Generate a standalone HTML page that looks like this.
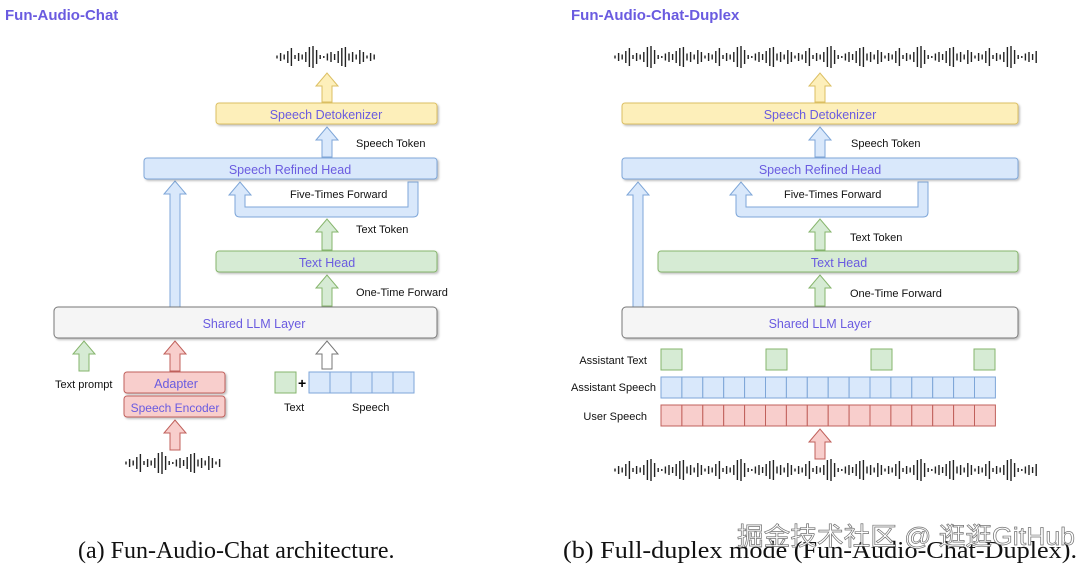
<!DOCTYPE html>
<html><head><meta charset="utf-8"><style>
html,body{margin:0;padding:0;background:#fff;}
svg{display:block}
.t{font-family:"Liberation Sans",sans-serif;font-size:11px;fill:#111}
.b{font-family:"Liberation Sans",sans-serif;font-size:12.5px;fill:#6a5be0;text-anchor:middle}
.h{font-family:"Liberation Sans",sans-serif;font-size:15px;font-weight:bold;fill:#6a5be0}
.c{font-family:"Liberation Serif",serif;font-size:24px;fill:#111}
</style></head><body>
<svg id="s" width="1080" height="571" viewBox="0 0 1080 571" xmlns="http://www.w3.org/2000/svg">
<defs><filter id="sh" x="-5%" y="-20%" width="110%" height="160%"><feDropShadow dx="1.5" dy="1.5" stdDeviation="1" flood-color="#000" flood-opacity="0.25"/></filter></defs>
<g id="g"></g>
<text class="h" x="5" y="20">Fun-Audio-Chat</text>
<text class="h" x="571" y="20">Fun-Audio-Chat-Duplex</text>

<rect x="216" y="103" width="221" height="21" rx="3" fill="#fdefba" stroke="#dcbf63" filter="url(#sh)"/>
<text class="b" x="326" y="119">Speech Detokenizer</text>
<rect x="144" y="158" width="293" height="21" rx="3" fill="#d9e8fb" stroke="#7ea6d8" filter="url(#sh)"/>
<text class="b" x="290" y="174">Speech Refined Head</text>
<rect x="216" y="251" width="221" height="21" rx="3" fill="#d6ebd4" stroke="#86b56c" filter="url(#sh)"/>
<text class="b" x="327" y="267">Text Head</text>
<rect x="54" y="307" width="383" height="31" rx="4" fill="#f5f5f5" stroke="#777" filter="url(#sh)"/>
<text class="b" x="254" y="328">Shared LLM Layer</text>
<rect x="124" y="372" width="101" height="21" rx="3" fill="#f8cecc" stroke="#c0605b" filter="url(#sh)"/>
<text class="b" x="176" y="388">Adapter</text>
<rect x="124" y="396" width="101" height="21" rx="3" fill="#f8cecc" stroke="#c0605b" filter="url(#sh)"/>
<text class="b" x="175" y="412" style="font-size:12px">Speech Encoder</text>
<rect x="275" y="372" width="21" height="21" fill="#d6ebd4" stroke="#86b56c"/>
<text x="298" y="388" style="font-family:'Liberation Sans';font-size:14px;font-weight:bold">+</text>

<text class="t" x="356" y="147">Speech Token</text>
<text class="t" x="290" y="198">Five-Times Forward</text>
<text class="t" x="356" y="233">Text Token</text>
<text class="t" x="356" y="296">One-Time Forward</text>
<text class="t" x="55" y="388">Text prompt</text>
<text class="t" x="284" y="411">Text</text>
<text class="t" x="352" y="411">Speech</text>

<rect x="622" y="103" width="396" height="21" rx="3" fill="#fdefba" stroke="#dcbf63" filter="url(#sh)"/>
<text class="b" x="820" y="119">Speech Detokenizer</text>
<rect x="622" y="158" width="396" height="21" rx="3" fill="#d9e8fb" stroke="#7ea6d8" filter="url(#sh)"/>
<text class="b" x="820" y="174">Speech Refined Head</text>
<rect x="658" y="251" width="360" height="21" rx="3" fill="#d6ebd4" stroke="#86b56c" filter="url(#sh)"/>
<text class="b" x="839" y="267">Text Head</text>
<rect x="622" y="307" width="396" height="31" rx="4" fill="#f5f5f5" stroke="#777" filter="url(#sh)"/>
<text class="b" x="820" y="328">Shared LLM Layer</text>

<text class="t" x="851" y="147">Speech Token</text>
<text class="t" x="784" y="198">Five-Times Forward</text>
<text class="t" x="850" y="241">Text Token</text>
<text class="t" x="850" y="297">One-Time Forward</text>
<text class="t" x="647" y="364" text-anchor="end">Assistant Text</text>
<text class="t" x="656" y="391" text-anchor="end">Assistant Speech</text>
<text class="t" x="647" y="420" text-anchor="end">User Speech</text>
<rect x="661" y="349" width="21" height="21" fill="#d6ebd4" stroke="#86b56c"/>
<rect x="766" y="349" width="21" height="21" fill="#d6ebd4" stroke="#86b56c"/>
<rect x="871" y="349" width="21" height="21" fill="#d6ebd4" stroke="#86b56c"/>
<rect x="974" y="349" width="21" height="21" fill="#d6ebd4" stroke="#86b56c"/>

<text class="c" x="78" y="558">(a) Fun-Audio-Chat architecture.</text>
<text class="c" x="563" y="558" textLength="514" lengthAdjust="spacingAndGlyphs">(b) Full-duplex mode (Fun-Audio-Chat-Duplex).</text>
<text x="737" y="545" textLength="338" lengthAdjust="spacingAndGlyphs" style="font-family:'Liberation Sans','Noto Sans CJK SC',sans-serif;font-size:25px;fill:#fff;stroke:#666;stroke-width:0.7;opacity:0.9">掘金技术社区 @ 逛逛GitHub</text>
</svg>
<script>
var g=document.getElementById('g'),h='';
function arrow(x,y1,y2,fill,stroke){var hw=11,sw=5,hh=13;
 h+='<path d="M'+(x-sw)+' '+y2+' L'+(x-sw)+' '+(y1+hh)+' L'+(x-hw)+' '+(y1+hh)+' L'+x+' '+y1+' L'+(x+hw)+' '+(y1+hh)+' L'+(x+sw)+' '+(y1+hh)+' L'+(x+sw)+' '+y2+' Z" fill="'+fill+'" stroke="'+stroke+'"/>';}
function loop(xa,xr,yt,yb){var sw=5,hw=11,hh=13;
 h+='<path d="M'+(xr-sw)+' '+yt+' L'+(xr+sw)+' '+yt+' L'+(xr+sw)+' '+(yb-5)+' Q'+(xr+sw)+' '+yb+' '+(xr)+' '+yb+' L'+(xa)+' '+yb+' Q'+(xa-sw)+' '+yb+' '+(xa-sw)+' '+(yb-5)+' L'+(xa-sw)+' '+(yt+hh)+' L'+(xa-hw)+' '+(yt+hh)+' L'+xa+' '+yt+' L'+(xa+hw)+' '+(yt+hh)+' L'+(xa+sw)+' '+(yt+hh)+' L'+(xa+sw)+' '+(yb-10)+' L'+(xr-sw)+' '+(yb-10)+' Z" fill="#d9e8fb" stroke="#7ea6d8"/>';}
var pat=[3,8,5,12,18,4,8,5,10,20,22,14,4,2,7,10,6,12,18,20,7,10,5,14,10];
function wave(x0,x1,yc){var n=Math.floor((x1-x0)/3.6);for(var i=0;i<n;i++){var l=pat[i%pat.length];var x=(x0+i*3.6).toFixed(1);
 h+='<line x1="'+x+'" x2="'+x+'" y1="'+(yc-l/2)+'" y2="'+(yc+l/2)+'" stroke="#222" stroke-width="1.4"/>';}}
function cells(x,y,n,w,fill,stroke){for(var i=0;i<n;i++)h+='<rect x="'+(x+i*w).toFixed(1)+'" y="'+y+'" width="'+w.toFixed(1)+'" height="21" fill="'+fill+'" stroke="'+stroke+'"/>';}
wave(277,378,57);arrow(327,73,102,'#fdefba','#dcbf63');
arrow(327,127,157,'#d9e8fb','#7ea6d8');
arrow(175,181,307,'#d9e8fb','#7ea6d8');
loop(240,413,182,217);
arrow(327,219,250,'#d6ebd4','#86b56c');
arrow(327,275,306,'#d6ebd4','#86b56c');
arrow(84,341,371,'#d6ebd4','#86b56c');
arrow(175,341,371,'#f8cecc','#c0605b');
arrow(175,420,450,'#f8cecc','#c0605b');
arrow(327,341,369,'#ffffff','#777');
wave(126,225,463);
cells(309,372,5,21,'#d9e8fb','#7ea6d8');
wave(615,1043,57);wave(615,1043,470);
arrow(820,73,102,'#fdefba','#dcbf63');
arrow(820,127,157,'#d9e8fb','#7ea6d8');
arrow(638,182,307,'#d9e8fb','#7ea6d8');
loop(741,923,182,217);
arrow(820,219,250,'#d6ebd4','#86b56c');
arrow(820,275,306,'#d6ebd4','#86b56c');
cells(661,377,16,20.9,'#d9e8fb','#7ea6d8');
cells(661,405,16,20.9,'#f8cecc','#c0605b');
arrow(820,429,459,'#f8cecc','#c0605b');
g.innerHTML=h;
</script>
</body></html>
